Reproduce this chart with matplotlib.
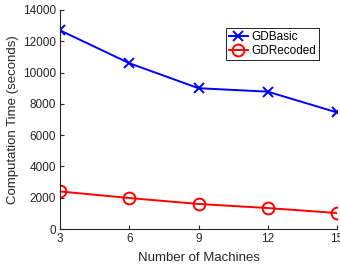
import matplotlib
matplotlib.use("Agg")
import matplotlib.pyplot as plt

machines = [3, 6, 9, 12, 15]
gd_basic = [12700, 10600, 9000, 8780, 7450]
gd_recoded = [2400, 1980, 1600, 1340, 1020]
yticks = [0, 2000, 4000, 6000, 8000, 10000, 12000, 14000]

plt.rcParams['font.family'] = ['Liberation Sans', 'DejaVu Sans']
plt.rcParams['font.size'] = 8.5

fig = plt.figure(figsize=(3.4, 2.65), dpi=100)
ax = fig.add_axes([60/340, 1-229/265, (337-60)/340, (229-10)/265])
ax.plot(machines, gd_basic, color='#0000ff', marker='x', markersize=7, mew=1.4, lw=1.4, label='GDBasic')
ax.plot(machines, gd_recoded, color='#ff0000', marker='o', markersize=8.5, mfc='none', mew=1.4, lw=1.4, label='GDRecoded')
ax.set_xlim(3, 15)
ax.set_ylim(0, 14000)
ax.set_xticks(machines)
ax.set_yticks(yticks)
for s in ['top', 'right']:
    ax.spines[s].set_visible(False)
for s in ['left', 'bottom']:
    ax.spines[s].set_color('#262626')
    ax.spines[s].set_linewidth(0.8)
ax.tick_params(direction='in', length=3, width=0.8, colors='#262626', labelcolor='#262626', pad=3)
ax.set_xlabel('Number of Machines', color='#262626', labelpad=5, fontsize=9.5)
ax.set_ylabel('Computation Time (seconds)', color='#262626', labelpad=3, fontsize=9.5)
leg = ax.legend(loc='upper right', bbox_to_anchor=(319/340, 1-28/265), bbox_transform=fig.transFigure,
                frameon=True, fancybox=False, edgecolor='black', framealpha=1, borderpad=0.25,
                handlelength=1.6, handletextpad=0.3, labelspacing=0.15, borderaxespad=0, fontsize=8.5)
leg.get_frame().set_linewidth(0.6)
fig.savefig('out.png', dpi=100)
